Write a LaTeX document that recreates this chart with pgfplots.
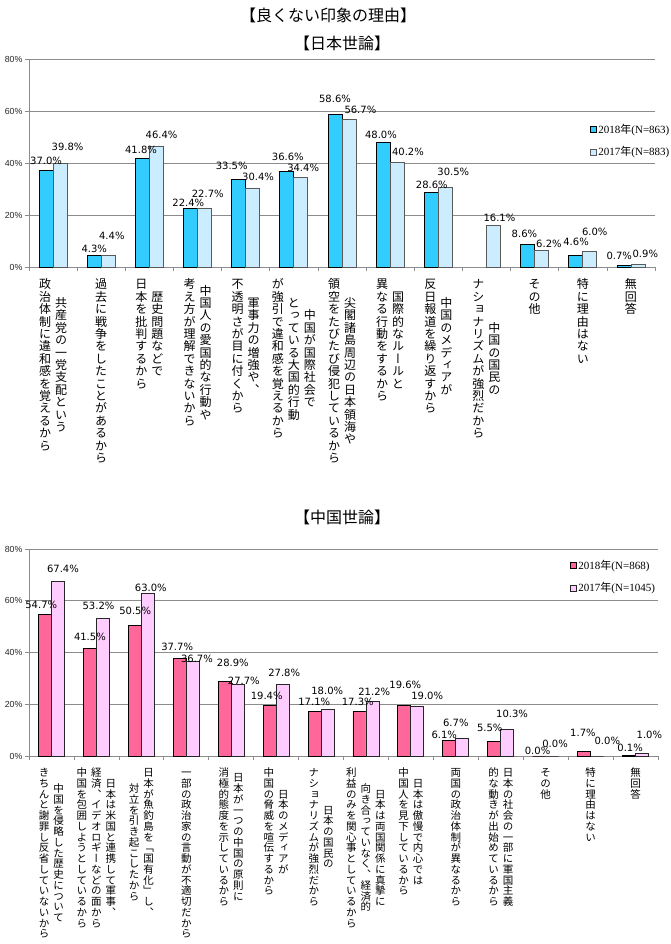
\documentclass[border=0pt]{standalone}
\usepackage{fontspec}
\usepackage{pgfplots}
\pgfplotsset{compat=1.18}
\usepackage{pgfplotstable}
\setmainfont{DejaVu Sans}
\newfontfamily\cjk{Noto Sans CJK JP}
\newfontfamily\cjkv{Noto Sans CJK JP}[RawFeature=+vert]
\newfontfamily\lsans{Liberation Sans}
\newfontfamily\lserif{Liberation Serif}

\definecolor{topA}{HTML}{33CCFF}
\definecolor{topB}{HTML}{CCECFF}
\definecolor{botA}{HTML}{FF6699}
\definecolor{botB}{HTML}{FFCCFF}
\definecolor{gridc}{HTML}{8C8C8C}

% vertical (tategaki) labels: one char per cell, columns right to left
\makeatletter
\newdimen\tatew \newdimen\tateht \newdimen\tatedp \newdimen\tategap
\def\tate@cell#1{\hbox to\tatew{\hss\vrule height\tateht depth\tatedp width\z@\smash{#1}\hss}}
\def\tate@loop#1{\ifx\@nil#1\else\tate@cell{#1}\expandafter\tate@loop\fi}
\newcommand\tatecol[1]{$\vcenter{\offinterlineskip\tate@loop#1\@nil}$}
\newcommand\tateI[1]{\hbox{\tatecol{#1}}}
\newcommand\tateII[2]{\hbox{\tatecol{#2}\hskip\tategap\tatecol{#1}}}
\newcommand\tateIII[3]{\hbox{\tatecol{#3}\hskip\tategap\tatecol{#2}\hskip\tategap\tatecol{#1}}}
\makeatother
\newcommand\toptate{\cjkv\fontsize{12pt}{12pt}\selectfont\tatew=12pt\tateht=10.76pt\tatedp=1.64pt\tategap=4pt}
\newcommand\bottate{\cjkv\fontsize{10.5pt}{10.5pt}\selectfont\tatew=10.5pt\tateht=9.365pt\tatedp=1.385pt\tategap=4pt}
\newcommand\legtxt[2]{\lserif#1\cjk 年\lserif(N=#2)}

% x y dx dy  (dx, dy: label centre offset from bar top, px)
\pgfplotstableread{
x y dx dy
1 37.0 0 9
2 4.3 0 6.5
3 41.8 -1.4 8.3
4 22.4 -2.2 5.5
5 33.5 -7 13.2
6 36.6 1 14.1
7 58.6 0 15.3
8 48.0 -2.2 6.5
9 28.6 0.5 7.6
11 8.6 -3.2 10.3
12 4.6 0.3 12.3
13 0.7 -4.7 8.5
}\jpA
\pgfplotstableread{
x y dx dy
1 39.8 7.5 16
2 4.4 3.6 19.6
3 46.4 5.2 10.7
4 22.7 3.2 14
5 30.4 5.4 10.7
6 34.4 2.3 9.3
7 56.7 11.4 9.6
8 40.2 10.8 10.2
9 30.5 8 15
10 16.1 6 6.8
11 6.2 7.3 6.6
12 6.0 5 18.7
13 0.9 7.4 10.7
}\jpB
\pgfplotstableread{
x y dx dy
1 54.7 -3.7 9.5
2 41.5 0 10.9
3 50.5 0.4 13.6
4 37.7 -2.6 10.8
5 28.9 8.1 17.9
6 19.4 -2.9 9.1
7 17.1 -0.3 9.5
8 17.3 -1.7 8.9
9 19.6 0.9 20.3
10 6.1 -5.1 5.2
11 5.5 -4.5 13.5
12 0.0 -1.6 4.3
13 1.7 -1.2 18.3
14 0.1 1.1 7.4
}\cnA
\pgfplotstableread{
x y dx dy
1 67.4 5 12.3
2 53.2 -4.4 12.3
3 63.0 3 4.7
4 36.7 4.2 2
5 27.7 6.1 2.6
6 27.8 1.6 10.8
7 18.0 -0.3 17.7
8 21.2 1.8 8.8
9 19.0 9.8 10.8
10 6.7 -6.5 15.4
11 10.3 4.8 15.3
12 0.0 2.9 12
13 0.0 10.2 15
14 1.0 7.3 18.4
}\cnB

\pgfplotsset{
  chartbase/.style={
    anchor=south west, scale only axis,
    ymin=0, ymax=80, ytick={0,20,...,80},
    yticklabel={\pgfmathprintnumber{\tick}\%},
    /pgf/number format/assume math mode=true,
    ybar=0pt, clip=false,
    axis lines=left, axis line style={-, draw=gridc, line width=0.8pt},
    ymajorgrids, grid style={draw=gridc, line width=0.8pt},
    tick align=outside, major tick length=4pt, minor tick length=4pt,
    tick style={draw=gridc, line width=0.7pt},
    major x tick style={draw=none},
    yticklabel style={font=\lsans\fontsize{8.8}{8.8}\selectfont, text=black!85, xshift=1pt},
    xticklabel style={anchor=north, inner sep=0pt, yshift=-7pt},
    legend cell align=left,
    legend style={draw=none, fill=none, inner sep=0pt, row sep=9pt,
      font=\fontsize{11}{11}\selectfont, anchor=west,
      nodes={inner sep=1.5pt}},
  },
  lbl/.style={
    visualization depends on={\thisrow{dx} \as \lbx},
    visualization depends on={\thisrow{dy} \as \lby},
    nodes near coords={\pgfmathprintnumber[fixed,fixed zerofill,precision=1]{\pgfplotspointmeta}\%},
    every node near coord/.append style={font=\fontsize{10}{10}\selectfont, text=black,
      inner sep=0pt, xshift=\lbx pt, yshift=\lby pt-3.6pt},
    legend image code/.code={\draw[##1] (0pt,-3pt) rectangle (6pt,3pt);},
  },
}

\begin{document}
\begin{tikzpicture}
\path[use as bounding box] (0,0) rectangle (670pt,944pt);

\node[font=\cjk\fontsize{16}{16}\selectfont] at (328pt,929pt) {【良くない印象の理由】};
\node[font=\cjk\fontsize{16}{16}\selectfont] at (342pt,901pt) {【日本世論】};
\node[font=\cjk\fontsize{16}{16}\selectfont] at (342pt,427pt) {【中国世論】};

\begin{axis}[chartbase,
  at={(29pt,677pt)}, width=626pt, height=208pt,
  xmin=0.5, xmax=13.5, bar width=14pt,
  xtick={1,...,13}, minor xtick={0.5,1.5,...,13.5},
  xticklabel style={font=\toptate},
  xticklabels={
    {\tateII{共産党の一党支配という}{政治体制に違和感を覚えるから}},
    {\tateI{過去に戦争をしたことがあるから}},
    {\tateII{歴史問題などで}{日本を批判するから}},
    {\tateII{中国人の愛国的な行動や}{考え方が理解できないから}},
    {\tateII{軍事力の増強や、}{不透明さが目に付くから}},
    {\tateIII{中国が国際社会で}{とっている大国的行動}{が強引で違和感を覚えるから}},
    {\tateII{尖閣諸島周辺の日本領海や}{領空をたびたび侵犯しているから}},
    {\tateII{国際的なルールと}{異なる行動をするから}},
    {\tateII{中国のメディアが}{反日報道を繰り返すから}},
    {\tateII{中国の国民の}{ナショナリズムが強烈だから}},
    {\tateI{その他}},
    {\tateI{特に理由はない}},
    {\tateI{無回答}}},
  legend style={at={(0.896,0.608)}},
]
\addplot[lbl, fill=topA, draw=black, line width=0.8pt] table[x=x, y=y] {\jpA};
\addplot[lbl, fill=topB, draw=black!65, line width=0.8pt] table[x=x, y=y] {\jpB};
\legend{\legtxt{2018}{863}, \legtxt{2017}{883}}
\end{axis}

\begin{axis}[chartbase,
  at={(29pt,188pt)}, width=629pt, height=207pt,
  xmin=0.5, xmax=14.5, bar width=13pt,
  xtick={1,...,14}, minor xtick={0.5,1.5,...,14.5},
  xticklabel style={font=\bottate},
  xticklabels={
    {\tateII{中国を侵略した歴史について}{きちんと謝罪し反省していないから}},
    {\tateIII{日本は米国と連携して軍事、}{経済、イデオロギーなどの面から}{中国を包囲しようとしているから}},
    {\tateII{日本が魚釣島を「国有化」し、}{対立を引き起こしたから}},
    {\tateI{一部の政治家の言動が不適切だから}},
    {\tateII{日本が一つの中国の原則に}{消極的態度を示しているから}},
    {\tateII{日本のメディアが}{中国の脅威を喧伝するから}},
    {\tateII{日本の国民の}{ナショナリズムが強烈だから}},
    {\tateIII{日本は両国関係に真摯に}{向き合っていなく、経済的}{利益のみを関心事としているから}},
    {\tateII{日本は傲慢で内心では}{中国人を見下しているから}},
    {\tateI{両国の政治体制が異なるから}},
    {\tateII{日本の社会の一部に軍国主義}{的な動きが出始めているから}},
    {\tateI{その他}},
    {\tateI{特に理由はない}},
    {\tateI{無回答}}},
  legend style={at={(0.860,0.867)}},
]
\addplot[lbl, fill=botA, draw=black, line width=0.8pt] table[x=x, y=y] {\cnA};
\addplot[lbl, fill=botB, draw=black!85, line width=0.8pt] table[x=x, y=y] {\cnB};
\legend{\legtxt{2018}{868}, \legtxt{2017}{1045}}
\end{axis}
\end{tikzpicture}
\end{document}
